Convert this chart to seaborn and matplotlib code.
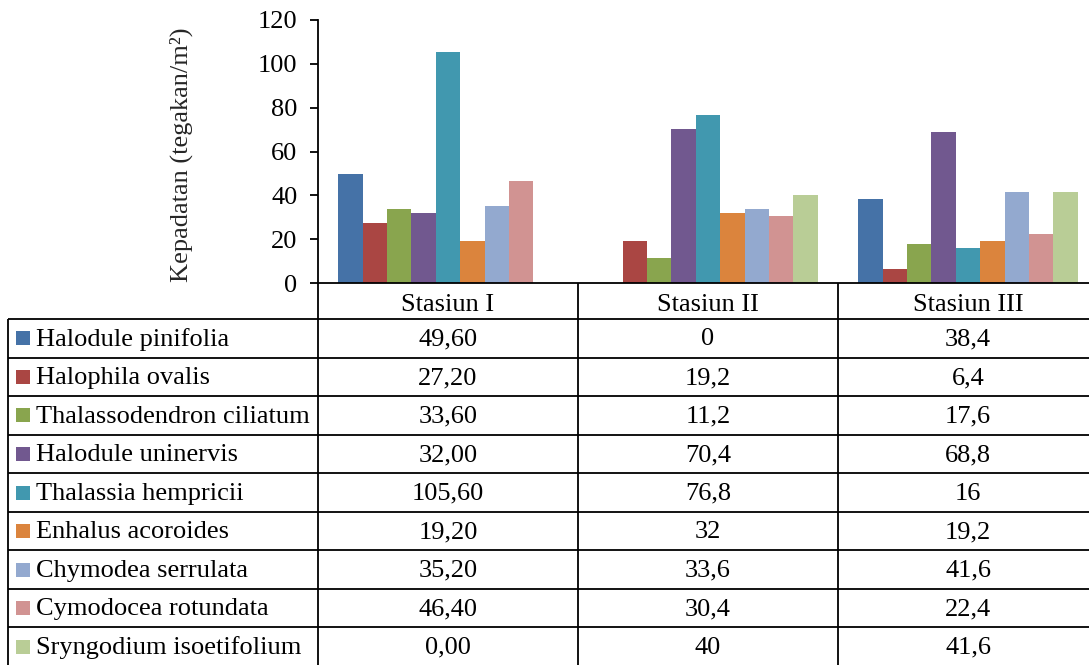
import matplotlib
matplotlib.use("Agg")
import matplotlib.pyplot as plt
import pandas as pd
import seaborn as sns
from matplotlib.patches import Rectangle

# ---- data -------------------------------------------------------------
stations = ["Stasiun I", "Stasiun II", "Stasiun III"]
species = [
    "Halodule pinifolia",
    "Halophila ovalis",
    "Thalassodendron ciliatum",
    "Halodule uninervis",
    "Thalassia hempricii",
    "Enhalus acoroides",
    "Chymodea serrulata",
    "Cymodocea rotundata",
    "Sryngodium isoetifolium",
]
stasiun_1 = ["49,60", "27,20", "33,60", "32,00", "105,60", "19,20", "35,20", "46,40", "0,00"]
stasiun_2 = ["0", "19,2", "11,2", "70,4", "76,8", "32", "33,6", "30,4", "40"]
stasiun_3 = ["38,4", "6,4", "17,6", "68,8", "16", "19,2", "41,6", "22,4", "41,6"]
colors = ["#4572A7", "#AA4643", "#89A54E", "#71588F", "#4198AF",
          "#DB843D", "#93A9CF", "#D19392", "#B9CD96"]
y_ticks = [0, 20, 40, 60, 80, 100, 120]
y_label = "Kepadatan (tegakan/m²)"

table_text = [stasiun_1, stasiun_2, stasiun_3]


def to_number(s):
    return float(s.replace(",", "."))


rows = []
for st, col in zip(stations, table_text):
    for sp, s in zip(species, col):
        rows.append({"station": st, "species": sp, "value": to_number(s)})
df = pd.DataFrame(rows)

# ---- style ------------------------------------------------------------
sns.set_style("white")
plt.rcParams["font.family"] = ["Liberation Serif", "DejaVu Serif"]
FS = 19
LW = 1.3
INK = "#000000"

W, H, DPI = 1089, 665, 100
fig = plt.figure(figsize=(W / DPI, H / DPI), dpi=DPI)


def fx(px):
    return px / W


def fy(py):
    return 1 - py / H


# layout in pixels
left_tab, axis_x, right_x = 8, 318, 1098
top_y, base_y, bottom_y = 20, 283, 666
col_w = (right_x - axis_x) / 3
row_h = 38.5
head_h = (319 - base_y) / row_h

# ---- bar chart --------------------------------------------------------
ax = fig.add_axes([fx(axis_x), fy(base_y), (right_x - axis_x) / W, (base_y - top_y) / H])
sns.barplot(data=df, x="station", y="value", hue="species", order=stations,
            hue_order=species, palette=colors, saturation=1, width=0.843,
            errorbar=None, linewidth=0, legend=False, ax=ax)
ax.set_xlim(-0.5, 2.5)
ax.set_ylim(0, 120)
ax.set_yticks(y_ticks)
ax.set_yticklabels([str(t) for t in y_ticks])
ax.set_xlabel("")
ax.set_ylabel(y_label, fontsize=FS)
ax.yaxis.set_label_coords(-0.160, 0.488)
ax.tick_params(axis="y", length=5.8, width=LW, pad=9, labelsize=FS,
               direction="out", colors=INK, left=True)
ax.tick_params(axis="x", length=0, labelbottom=False)
for side in ["top", "right"]:
    ax.spines[side].set_visible(False)
for side in ["left", "bottom"]:
    ax.spines[side].set_color(INK)
    ax.spines[side].set_linewidth(LW)

# ---- data table -------------------------------------------------------
leg_w = (axis_x - left_tab) / col_w
x0 = -0.5 - leg_w
tab = fig.add_axes([fx(left_tab), fy(bottom_y), (right_x - left_tab) / W, (bottom_y - base_y) / H])
tab.set_xlim(x0, 2.5)
tab.set_ylim(head_h + len(species), 0)
tab.axis("off")

line_kw = dict(color=INK, lw=LW, clip_on=False, solid_capstyle="butt")
for i in range(len(species) + 1):
    tab.plot([x0, 2.5], [head_h + i, head_h + i], **line_kw)
tab.plot([x0, x0], [head_h, head_h + len(species)], **line_kw)
for xv in [-0.5, 0.5, 1.5]:
    tab.plot([xv, xv], [0, head_h + len(species)], **line_kw)

for j, st in enumerate(stations):
    tab.text(j, head_h / 2 + 0.1, st, ha="center", va="center", fontsize=FS, color=INK)

sq_w = 14 / col_w
sq_h = 14 / row_h
for i, sp in enumerate(species):
    yc = head_h + i + 0.5
    tab.add_patch(Rectangle((x0 + 8 / col_w, yc - sq_h / 2), sq_w, sq_h,
                            facecolor=colors[i], edgecolor="none"))
    tab.text(x0 + 28 / col_w, yc + 0.03, sp, ha="left", va="center", fontsize=FS, color=INK)
    for j in range(len(stations)):
        tab.text(j, yc + 0.03, table_text[j][i], ha="center", va="center",
                 fontsize=FS, color=INK)

fig.savefig("out.png", dpi=DPI)
